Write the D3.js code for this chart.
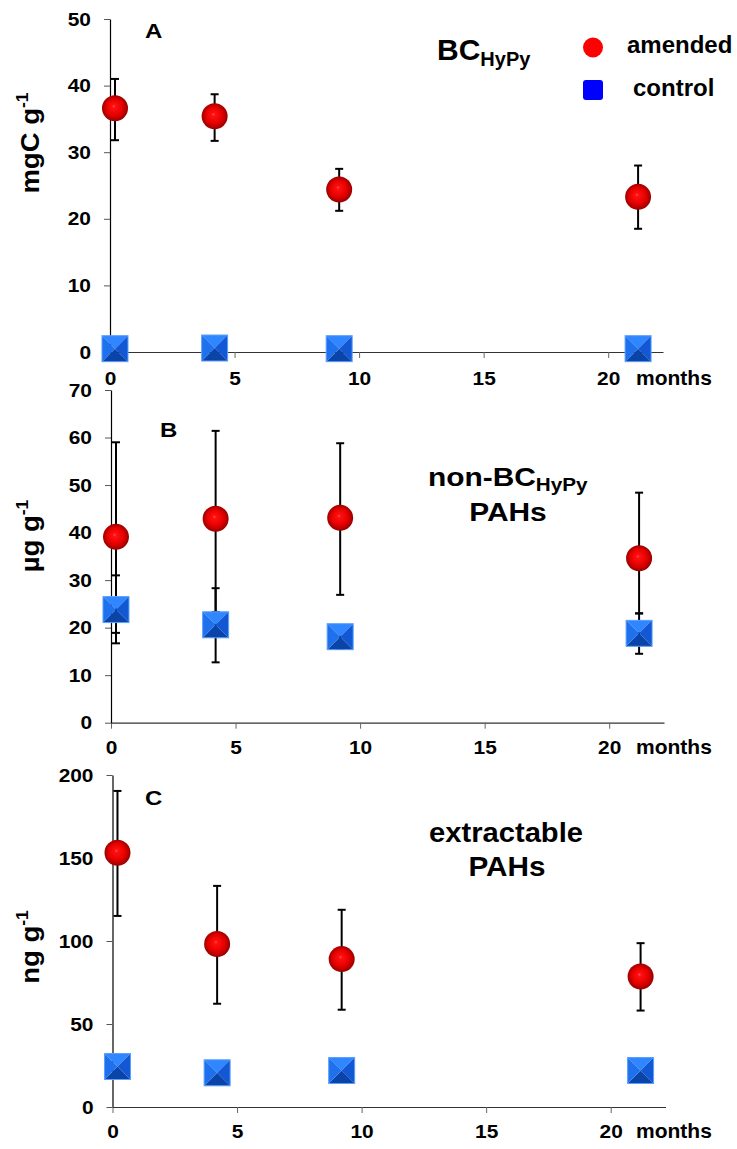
<!DOCTYPE html>
<html>
<head>
<meta charset="utf-8">
<script src="https://cdn.jsdelivr.net/npm/d3@7"></script>
<style>
  body { margin: 0; background: #fff; }
  text { font-family: "Liberation Sans", Arial, sans-serif; font-weight: bold; fill: #000; }
</style>
</head>
<body>
<div id="chart"></div>
<script>
// sampling times (months)
var months = [0.2, 4.2, 9.2, 21.2],
    xTicks = [0, 5, 10, 15, 20];

// A: BC HyPy, mgC g-1
var bcAmended   = [36.6, 35.4, 24.4, 23.3],
    bcAmendedLo = [31.8, 31.7, 21.2, 18.5],
    bcAmendedHi = [41.0, 38.7, 27.5, 28.0],
    bcControl   = [0.5, 0.6, 0.5, 0.5];

// B: non-BC HyPy PAHs, ug g-1
var nonAmended   = [39.1, 42.9, 43.1, 34.6],
    nonAmendedLo = [18.9, 23.3, 26.9, 23.0],
    nonAmendedHi = [59.0, 61.4, 58.8, 48.4],
    nonControl   = [23.8, 20.6, 18.1, 18.8],
    nonControlLo = [16.7, 12.7, 15.5, 14.5],
    nonControlHi = [31.0, 28.3, 19.5, 23.0];

// C: extractable PAHs, ng g-1
var extAmended   = [153.2, 98.2, 89.1, 78.6],
    extAmendedLo = [115.1, 62.2, 58.6, 58.1],
    extAmendedHi = [190.4, 133.2, 118.8, 98.7],
    extControl   = [24.4, 20.6, 22.0, 22.0];

var yTicksA = [0, 10, 20, 30, 40, 50],
    yTicksB = [0, 10, 20, 30, 40, 50, 60, 70],
    yTicksC = [0, 50, 100, 150, 200];

var width = 737, height = 1149, xMax = 22.2;

var panels = [
  { letter: "A", unit: "mgC g", yMax: 50, ticks: yTicksA, left: 110, top: 19, bottom: 352, pad: 14,
    letterPos: [145, 38], labelY: 143,
    amended: bcAmended, aLo: bcAmendedLo, aHi: bcAmendedHi,
    control: bcControl, cLo: null, cHi: null },
  { letter: "B", unit: "\u00b5g g", yMax: 70, ticks: yTicksB, left: 111, top: 390, bottom: 722.7, pad: 12,
    letterPos: [160, 437], labelY: 536,
    amended: nonAmended, aLo: nonAmendedLo, aHi: nonAmendedHi,
    control: nonControl, cLo: nonControlLo, cHi: nonControlHi },
  { letter: "C", unit: "ng g", yMax: 200, ticks: yTicksC, left: 112.5, top: 775, bottom: 1107, pad: 12,
    letterPos: [145, 805], labelY: 947,
    amended: extAmended, aLo: extAmendedLo, aHi: extAmendedHi,
    control: extControl, cLo: null, cHi: null }
];

var svg = d3.select("#chart").append("svg")
    .attr("width", width)
    .attr("height", height);

svg.append("rect").attr("width", width).attr("height", height).attr("fill", "#fff");

var defs = svg.append("defs");
var ball = defs.append("radialGradient")
    .attr("id", "ball")
    .attr("cx", "50%").attr("cy", "50%").attr("r", "55%")
    .attr("fx", "45%").attr("fy", "42%");
ball.append("stop").attr("offset", "0%").attr("stop-color", "#ff5555");
ball.append("stop").attr("offset", "12%").attr("stop-color", "#ff1010");
ball.append("stop").attr("offset", "55%").attr("stop-color", "#e80000");
ball.append("stop").attr("offset", "85%").attr("stop-color", "#a80000");
ball.append("stop").attr("offset", "100%").attr("stop-color", "#8a0000");

// pyramid-shaped square marker
function squareMarker(g, s) {
  var faces = [
    { p: [[-s, -s], [s, -s], [0, 0]], c: "#2f86ff" },
    { p: [[s, -s], [s, s], [0, 0]], c: "#1258d4" },
    { p: [[s, s], [-s, s], [0, 0]], c: "#0b44a8" },
    { p: [[-s, s], [-s, -s], [0, 0]], c: "#1f70ec" }
  ];
  g.selectAll("polygon")
    .data(faces)
    .enter().append("polygon")
      .attr("points", function(d) { return d.p.join(" "); })
      .attr("fill", function(d) { return d.c; });
  g.append("rect")
    .attr("x", -s).attr("y", -s).attr("width", 2 * s).attr("height", 2 * s)
    .attr("fill", "none").attr("stroke", "#5aa0ff").attr("stroke-width", 1);
}

function errorBars(g, x, y, vals, lo, hi) {
  var d = months.map(function(m, i) { return { x: m, lo: lo[i], hi: hi[i] }; });
  var e = g.append("g").selectAll("g")
    .data(d)
    .enter().append("g");
  e.append("line")
    .attr("x1", function(d) { return x(d.x); }).attr("x2", function(d) { return x(d.x); })
    .attr("y1", function(d) { return y(d.lo); }).attr("y2", function(d) { return y(d.hi); })
    .attr("stroke", "#000").attr("stroke-width", 2);
  [ "lo", "hi" ].forEach(function(k) {
    e.append("line")
      .attr("x1", function(d) { return x(d.x) - 4; }).attr("x2", function(d) { return x(d.x) + 4; })
      .attr("y1", function(d) { return y(d[k]); }).attr("y2", function(d) { return y(d[k]); })
      .attr("stroke", "#000").attr("stroke-width", 2);
  });
}

panels.forEach(function(p) {
  var x = d3.scaleLinear().domain([0, xMax]).range([p.left, p.left + 553]);
  var y = d3.scaleLinear().domain([0, p.yMax]).range([p.bottom, p.top]);
  var g = svg.append("g");

  //x axis
  var xa = g.append("g")
      .attr("transform", "translate(0," + p.bottom + ")")
      .call(d3.axisBottom(x).tickValues(xTicks).tickSize(6).tickSizeOuter(0).tickPadding(p.pad));
  xa.attr("font-size", null).attr("font-family", null);
  xa.select(".domain").attr("stroke", "#333").attr("stroke-width", 1.2);
  xa.selectAll(".tick line").attr("stroke", "#666");
  xa.selectAll("text")
      .style("font-size", "19px")
      .attr("transform", "scale(1.1,1)");
  g.append("text")
      .attr("x", 636)
      .attr("y", p.bottom + p.pad + 19)
      .style("font-size", "21px")
      .text("months");

  //y axis
  var ya = g.append("g")
      .attr("transform", "translate(" + p.left + ",0)")
      .call(d3.axisLeft(y).tickValues(p.ticks).tickSize(6).tickSizeOuter(0));
  ya.attr("font-size", null).attr("font-family", null);
  ya.select(".domain").attr("stroke", "#000").attr("stroke-width", 1.2);
  ya.selectAll(".tick line").attr("stroke", "#555");
  ya.selectAll("text")
      .style("font-size", "19px")
      .attr("x", -19 / 1.1)
      .attr("transform", "scale(1.1,1)");

  //caption: y label
  var yl = g.append("text")
      .attr("transform", "translate(39," + p.labelY + ") rotate(-90) scale(1.1,1)")
      .attr("text-anchor", "middle")
      .style("font-size", "25px");
  yl.append("tspan").text(p.unit);
  yl.append("tspan").style("font-size", "16px").attr("dy", -11).text("-1");

  //caption: panel letter
  g.append("text")
      .attr("transform", "translate(" + p.letterPos[0] + "," + p.letterPos[1] + ") scale(1.2,1)")
      .style("font-size", "20px")
      .text(p.letter);

  // error bars first, markers on top
  errorBars(g, x, y, p.amended, p.aLo, p.aHi);
  if (p.cLo) errorBars(g, x, y, p.control, p.cLo, p.cHi);

  g.append("g").selectAll("g")
    .data(p.control)
    .enter().append("g")
      .attr("transform", function(d, i) { return "translate(" + x(months[i]) + "," + y(d) + ")"; })
      .each(function() { squareMarker(d3.select(this), 13); });

  g.append("g").selectAll("circle")
    .data(p.amended)
    .enter().append("circle")
      .attr("cx", function(d, i) { return x(months[i]); })
      .attr("cy", function(d) { return y(d); })
      .attr("r", 13)
      .attr("fill", "url(#ball)");
});

// titles
var tA = svg.append("text").attr("x", 437).attr("y", 60).style("font-size", "30px");
tA.append("tspan").text("BC");
tA.append("tspan").style("font-size", "20px").attr("dy", 6).text("HyPy");

var tB = svg.append("text").attr("transform", "translate(428,486) scale(1.15,1)").style("font-size", "26px");
tB.append("tspan").text("non-BC");
tB.append("tspan").style("font-size", "18px").attr("dy", 5).text("HyPy");
svg.append("text").attr("transform", "translate(508,521) scale(1.15,1)")
    .attr("text-anchor", "middle").style("font-size", "26px").text("PAHs");

svg.append("text").attr("transform", "translate(506,842) scale(1.08,1)")
    .attr("text-anchor", "middle").style("font-size", "27px").text("extractable");
svg.append("text").attr("transform", "translate(507,876) scale(1.1,1)")
    .attr("text-anchor", "middle").style("font-size", "27px").text("PAHs");

// legend
svg.append("circle").attr("cx", 593).attr("cy", 47.5).attr("r", 10).attr("fill", "#ff0000");
svg.append("rect").attr("x", 583).attr("y", 80).attr("width", 20).attr("height", 20)
    .attr("rx", 3).attr("fill", "#0000ff");
svg.append("text").attr("x", 627).attr("y", 53).style("font-size", "24px").text("amended");
svg.append("text").attr("x", 633).attr("y", 96).style("font-size", "24px").text("control");
</script>
</body>
</html>
